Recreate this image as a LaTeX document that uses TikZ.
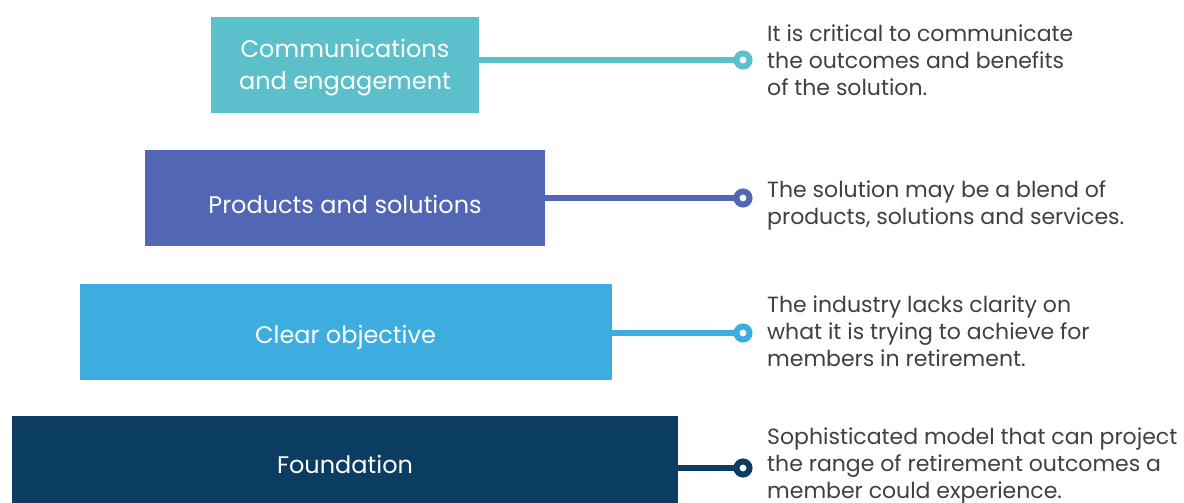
\documentclass[tikz,border=0pt]{standalone}
\usepackage{fontspec}
\setmainfont{Poppins}
\usetikzlibrary{positioning}

\definecolor{tealbox}{HTML}{5BC0C9}
\definecolor{bluebox}{HTML}{5166B5}
\definecolor{skybox}{HTML}{3DADE0}
\definecolor{navybox}{HTML}{0B3C62}
\definecolor{bodytext}{HTML}{404040}

\tikzset{
  level/.style={fill=#1, inner sep=0pt, minimum height=96pt},
  tag/.style={text=white, inner sep=0pt, align=center,
    font=\fontsize{24}{32}\selectfont},
  link/.style={#1, line width=5.5pt},
  dot/.style={draw=#1, fill=white, line width=6pt, circle, inner sep=0pt,
    minimum size=13pt},
  note/.style={anchor=west, inner sep=0pt, align=left, text=bodytext,
    font=\fontsize{22}{27}\selectfont}
}

\begin{document}
\begin{tikzpicture}[x=1pt,y=-1pt]
    \useasboundingbox (0,0) rectangle (1184,503);
    \clip (0,0) rectangle (1184,503);

    % Levels
    \node [level=tealbox, minimum width=268pt] (comms) at (345,65) {};
    \node [level=bluebox, minimum width=400pt] (prods) at (345,198) {};
    \node [level=skybox, minimum width=532pt] (goal) at (345.5,332) {};
    \node [level=navybox, minimum width=666pt] (base) at (345,464) {};

    \node [tag] (comms text) at ([yshift=-3pt]comms.center)
        {Communications\\and engagement};
    \node [tag] (prods text) at ([yshift=-6pt]prods.center)
        {Products and solutions};
    \node [tag] (goal text) at ([yshift=-5pt]goal.center) {Clear objective};
    \node [tag] (base text) at ([yshift=0pt]base.center) {Foundation};

    % End points
    \node [dot=tealbox] (e1) at (743,60) {};
    \node [dot=bluebox] (e2) at (743,198) {};
    \node [dot=skybox]  (e3) at (743,333) {};
    \node [dot=navybox] (e4) at (743,468) {};

    % Links
    \draw [link=tealbox] (e1 -| comms.east) -- (e1.west);
    \draw [link=bluebox] (e2 -| prods.east) -- (e2.west);
    \draw [link=skybox]  (e3 -| goal.east) -- (e3.west);
    \draw [link=navybox] (e4 -| base.east) -- (e4.west);

    % Notes
    \node [note] (n1) at (767,60) {It is critical to communicate\\the outcomes and benefits\\of the solution.};
    \node [note] (n2) at (767,205) {The solution may be a blend of\\products, solutions and services.};
    \node [note] (n3) at (767,331) {The industry lacks clarity on\\what it is trying to achieve for\\members in retirement.};
    \node [note] (n4) at (767,466) {Sophisticated model that can project\\the range of retirement outcomes a\\member could experience.};
\end{tikzpicture}
\end{document}
